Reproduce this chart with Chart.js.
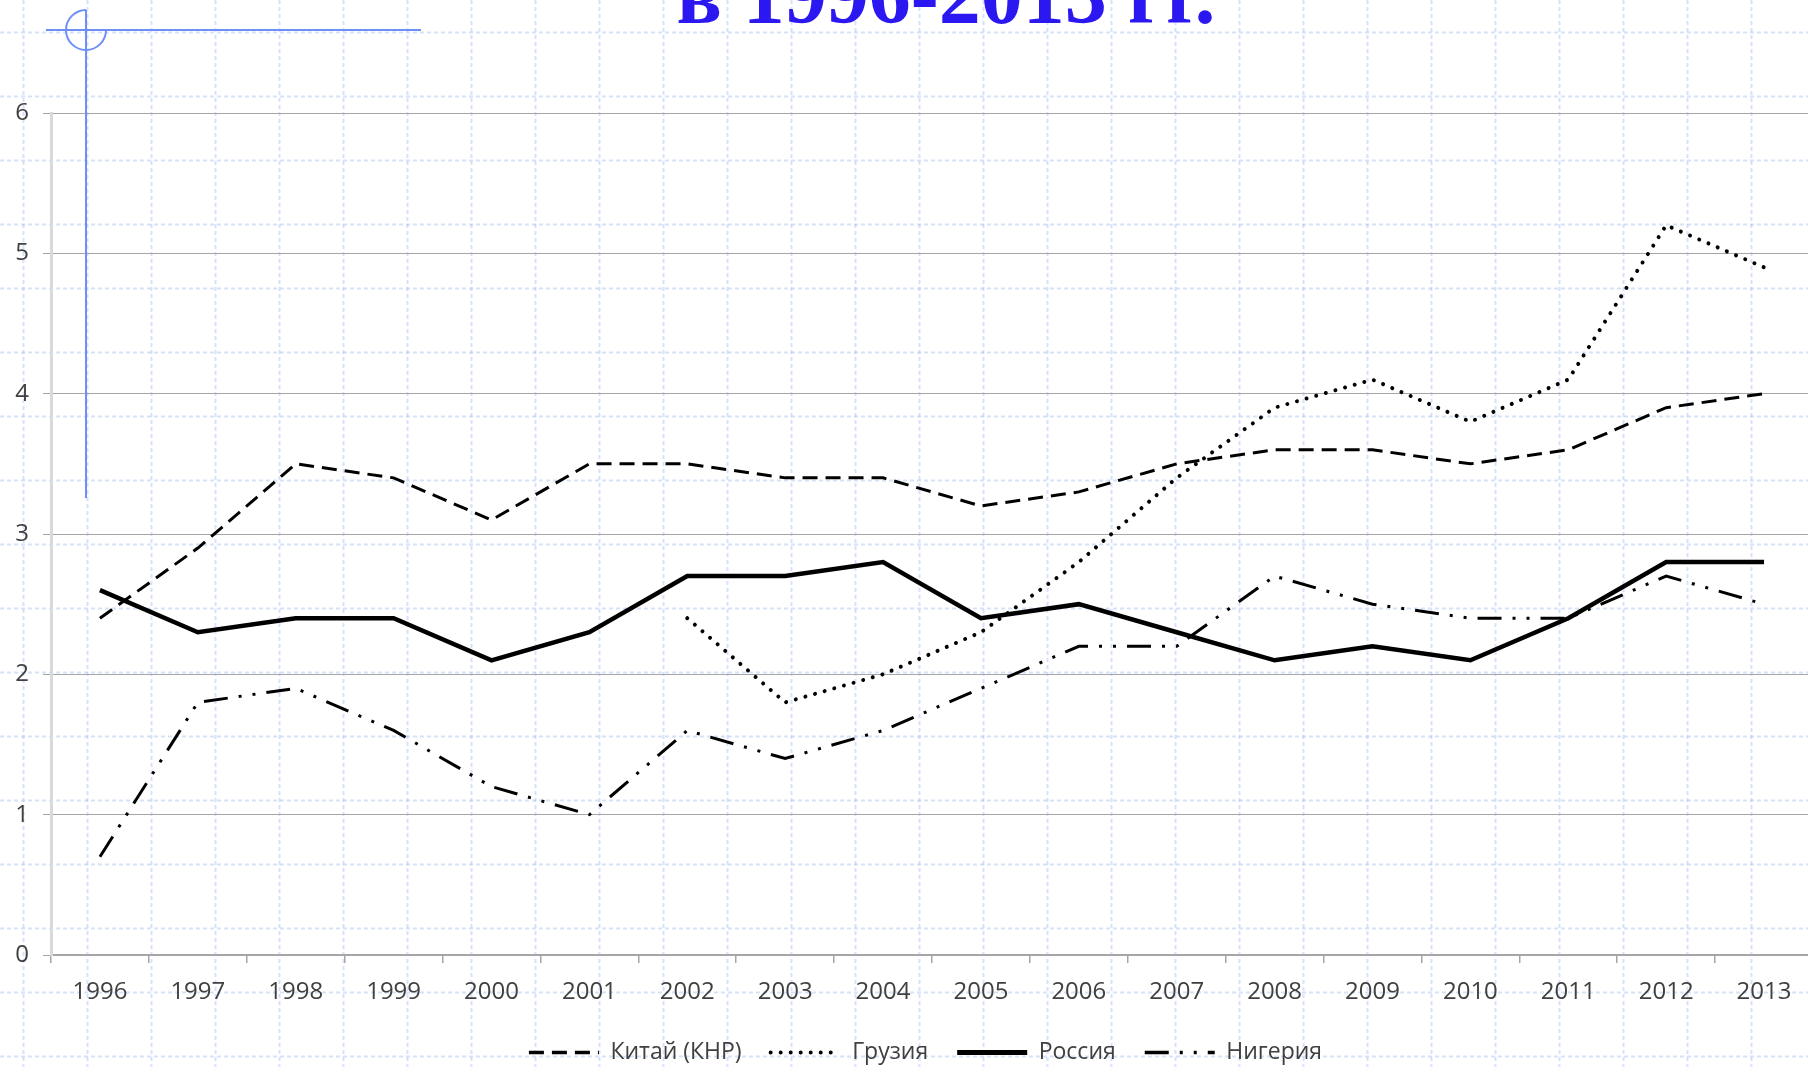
<!DOCTYPE html>
<html>
<head>
<meta charset="utf-8">
<script src="https://cdn.jsdelivr.net/npm/chart.js@4/dist/chart.umd.min.js"></script>
<style>
  html, body { margin: 0; padding: 0; width: 1808px; height: 1067px; overflow: hidden; background: #ffffff; }
  #bg, #chartBox, #overlay { position: absolute; left: 0; top: 0; }
  #chartBox { width: 1813px; height: 1074px; }
  #title {
    position: absolute; left: 946px; top: -47px; transform: translateX(-50%);
    font-family: "Liberation Serif", "DejaVu Serif", serif; font-weight: bold;
    font-size: 84px; line-height: 1; color: #2b17f0; white-space: nowrap;
  }
</style>
</head>
<body>
<canvas id="bg" width="1808" height="1067"></canvas>
<div id="title">в 1996-2013 гг.</div>
<div id="chartBox"><canvas id="chart" width="1813" height="1074"></canvas></div>
<canvas id="overlay" width="1808" height="1067"></canvas>
<script>
// ---- data ----
const years = ['1996','1997','1998','1999','2000','2001','2002','2003','2004','2005','2006','2007','2008','2009','2010','2011','2012','2013'];
const china   = [2.4, 2.9, 3.5, 3.4, 3.1, 3.5, 3.5, 3.4, 3.4, 3.2, 3.3, 3.5, 3.6, 3.6, 3.5, 3.6, 3.9, 4.0];
const georgia = [null, null, null, null, null, null, 2.4, 1.8, 2.0, 2.3, 2.8, 3.4, 3.9, 4.1, 3.8, 4.1, 5.2, 4.9];
const russia  = [2.6, 2.3, 2.4, 2.4, 2.1, 2.3, 2.7, 2.7, 2.8, 2.4, 2.5, 2.3, 2.1, 2.2, 2.1, 2.4, 2.8, 2.8];
const nigeria = [0.7, 1.8, 1.9, 1.6, 1.2, 1.0, 1.6, 1.4, 1.6, 1.9, 2.2, 2.2, 2.7, 2.5, 2.4, 2.4, 2.7, 2.5];
const seriesNames = ['Китай (КНР)', 'Грузия', 'Россия', 'Нигерия'];
const yTicks = [0, 1, 2, 3, 4, 5, 6];

// ---- graph-paper background ----
(function () {
  const c = document.getElementById('bg').getContext('2d');
  c.strokeStyle = 'rgba(165,188,245,0.45)';
  c.lineWidth = 2;
  c.setLineDash([4, 3]);
  for (let x = 23; x < 1808; x += 64) { c.beginPath(); c.moveTo(x + 0.5, 0); c.lineTo(x + 0.5, 1067); c.stroke(); }
  for (let y = 32; y < 1067; y += 64) { c.beginPath(); c.moveTo(0, y + 0.5); c.lineTo(1808, y + 0.5); c.stroke(); }
})();

// ---- chart ----
const legendShift = {
  id: 'legendShift',
  afterLayout(chart) { if (chart.legend) { chart.legend.left += 38; } }
};
const common = { pointRadius: 0, pointHoverRadius: 0, fill: false, tension: 0, borderColor: '#000000', backgroundColor: '#000000', pointStyle: 'line', spanGaps: false };
new Chart(document.getElementById('chart'), {
  type: 'line',
  data: {
    labels: years,
    datasets: [
      Object.assign({}, common, { label: seriesNames[0], data: china, borderWidth: 3, borderDash: [15, 8], borderCapStyle: 'butt' }),
      Object.assign({}, common, { label: seriesNames[1], data: georgia, borderWidth: 4, borderDash: [0.01, 10], borderCapStyle: 'round' }),
      Object.assign({}, common, { label: seriesNames[2], data: russia, borderWidth: 4.5, borderCapStyle: 'butt', borderJoinStyle: 'miter' }),
      Object.assign({}, common, { label: seriesNames[3], data: nigeria, borderWidth: 3, borderDash: [24, 11, 3, 11, 3, 11], borderCapStyle: 'butt' })
    ]
  },
  plugins: [legendShift],
  options: {
    responsive: false,
    animation: false,
    devicePixelRatio: 1,
    layout: { padding: { top: 113, left: 0, right: 0, bottom: 0 } },
    plugins: {
      tooltip: { enabled: false },
      title: { display: false },
      legend: {
        position: 'bottom',
        labels: {
          usePointStyle: true,
          pointStyleWidth: 70,
          padding: 29,
          color: '#404040',
          font: { family: 'Open Sans', size: 23 },
          generateLabels: (chart) => {
            const items = Chart.defaults.plugins.legend.labels.generateLabels(chart);
            return items.map((it) => {
              const ds = chart.data.datasets[it.datasetIndex];
              it.lineWidth = it.datasetIndex === 2 ? 5 : Math.max(ds.borderWidth, 3.5);
              it.lineDash = ds.borderDash || [];
              it.lineCap = ds.borderCapStyle || 'butt';
              it.strokeStyle = '#000000';
              it.pointStyle = 'line';
              return it;
            });
          }
        }
      }
    },
    scales: {
      x: {
        type: 'category',
        offset: true,
        afterFit: (s) => { s.height = 57; },
        grid: { offset: true, drawOnChartArea: false, drawTicks: true, tickLength: 8, color: '#a6a6a6', lineWidth: 1.5 },
        border: { display: true, color: '#a6a6a6', width: 2 },
        ticks: { color: '#404040', font: { family: 'Open Sans', size: 24 }, padding: 15, maxRotation: 0, autoSkip: false }
      },
      y: {
        min: 0, max: 6,
        afterFit: (s) => { s.width = 51; },
        afterBuildTicks: (s) => { s.ticks = yTicks.map(v => ({ value: v })); },
        grid: { color: '#a6a6a6', lineWidth: 1, drawTicks: true, tickLength: 8 },
        border: { display: true, color: '#d9d9d9', width: 3 },
        ticks: { color: '#404040', font: { family: 'Open Sans', size: 24 }, padding: 14 }
      }
    }
  }
});

// ---- blue cursor overlay ----
(function () {
  const c = document.getElementById('overlay').getContext('2d');
  c.strokeStyle = '#6f8ff7';
  c.lineWidth = 2;
  c.beginPath(); c.moveTo(46, 30); c.lineTo(421, 30); c.stroke();
  c.beginPath(); c.moveTo(86, 10); c.lineTo(86, 498); c.stroke();
  c.beginPath(); c.arc(86, 30, 20, -Math.PI / 2, 0, true); c.stroke();
})();
</script>
</body>
</html>
